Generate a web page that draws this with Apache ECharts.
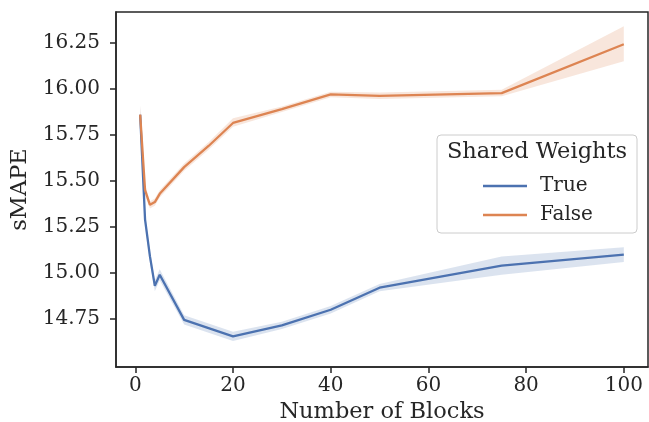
<!DOCTYPE html>
<html>
<head>
<meta charset="utf-8">
<script src="https://cdn.jsdelivr.net/npm/echarts@6/dist/echarts.min.js"></script>
<style>
html,body{margin:0;padding:0;background:#fff;}
#chart{width:649px;height:422px;}
</style>
</head>
<body>
<div id="chart"></div>
<script>
// ---- data ----
var blocks = [1, 2, 3, 4, 5, 10, 15, 20, 30, 40, 50, 75, 100];
var trueMean = [15.86, 15.29, 15.09, 14.93, 14.99, 14.745, 14.70, 14.655, 14.715, 14.80, 14.92, 15.04, 15.10];
var trueLow  = [15.82, 15.26, 15.06, 14.90, 14.96, 14.72, 14.675, 14.63, 14.695, 14.78, 14.90, 14.99, 15.06];
var trueHigh = [15.91, 15.32, 15.12, 14.96, 15.02, 14.77, 14.725, 14.68, 14.735, 14.82, 14.94, 15.09, 15.14];
var falseMean = [15.86, 15.45, 15.37, 15.385, 15.43, 15.575, 15.69, 15.815, 15.89, 15.97, 15.962, 15.977, 16.243];
var falseLow  = [15.82, 15.42, 15.35, 15.365, 15.41, 15.555, 15.67, 15.795, 15.875, 15.955, 15.945, 15.96, 16.15];
var falseHigh = [15.91, 15.48, 15.39, 15.405, 15.45, 15.595, 15.71, 15.84, 15.905, 15.985, 15.98, 15.995, 16.34];
var xTicks = [0, 20, 40, 60, 80, 100];
var yTicks = [14.75, 15.00, 15.25, 15.50, 15.75, 16.00, 16.25];
var seriesNames = ['True', 'False'];
var legendTitle = 'Shared Weights';
var xName = 'Number of Blocks';
var yName = 'sMAPE';

var BLUE = '#4c72b0', ORANGE = '#dd8452';
var FONT = '"DejaVu Serif", serif';
var TXT = '#262626';

function pairs(xs, ys) { return xs.map(function (x, i) { return [x, ys[i]]; }); }

function bandSeries(low, high, color) {
  return {
    type: 'custom',
    silent: true,
    z: 1,
    data: [[blocks[0], low[0]]],
    renderItem: function (params, api) {
      var pts = [];
      for (var i = 0; i < blocks.length; i++) pts.push(api.coord([blocks[i], high[i]]));
      for (var j = blocks.length - 1; j >= 0; j--) pts.push(api.coord([blocks[j], low[j]]));
      return { type: 'polygon', shape: { points: pts }, style: { fill: color, opacity: 0.2 } };
    }
  };
}

var chart = echarts.init(document.getElementById('chart'), null, { renderer: 'canvas' });
chart.setOption({
  animation: false,
  backgroundColor: '#fff',
  grid: { left: 116, right: 1, top: 12, bottom: 55, show: true, borderColor: TXT, borderWidth: 1.5,
          backgroundColor: 'transparent', containLabel: false, outerBoundsMode: 'none' },
  xAxis: {
    type: 'value', min: -3.95, max: 104.95,
    name: xName, nameLocation: 'middle', nameGap: 29,
    nameTextStyle: { fontFamily: FONT, fontSize: 22.5, color: TXT },
    axisLine: { show: true, onZero: false, lineStyle: { color: TXT, width: 1.5 } },
    axisTick: { show: true, length: 6, lineStyle: { color: TXT, width: 1.5 }, customValues: xTicks },
    axisLabel: { customValues: xTicks, margin: 9, fontFamily: FONT, fontSize: 20, color: TXT },
    splitLine: { show: false }
  },
  yAxis: {
    type: 'value', min: 14.489, max: 16.418,
    name: yName, nameLocation: 'middle', nameGap: 70, nameRotate: 90,
    nameTextStyle: { fontFamily: FONT, fontSize: 22.5, color: TXT },
    axisLine: { show: true, onZero: false, lineStyle: { color: TXT, width: 1.5 } },
    axisTick: { show: true, length: 6, lineStyle: { color: TXT, width: 1.5 }, customValues: yTicks },
    axisLabel: { customValues: yTicks, margin: 16, fontFamily: FONT, fontSize: 20, color: TXT,
      formatter: function (v) { return v.toFixed(2); } },
    splitLine: { show: false }
  },
  legend: {
    data: seriesNames,
    orient: 'vertical',
    left: 478, top: 171,
    z: 100,
    itemWidth: 44, itemHeight: 2.5, itemGap: 9,
    icon: 'rect',
    selectedMode: false,
    textStyle: { fontFamily: FONT, fontSize: 20, color: TXT, padding: [0, 0, 0, 8] }
  },
  graphic: [
    { type: 'rect', x: 437, y: 135, z: 90,
      shape: { width: 200, height: 98, r: 4 },
      style: { fill: 'rgba(255,255,255,0.85)', stroke: '#cccccc', lineWidth: 1 } },
    { type: 'text', x: 537, y: 141, z: 91,
      style: { text: legendTitle, font: '22.5px ' + FONT, fill: TXT, align: 'center', verticalAlign: 'top' } }
  ],
  series: [
    bandSeries(trueLow, trueHigh, BLUE),
    bandSeries(falseLow, falseHigh, ORANGE),
    { name: seriesNames[0], type: 'line', data: pairs(blocks, trueMean), showSymbol: false, symbol: 'none',
      lineStyle: { color: BLUE, width: 2.3 }, itemStyle: { color: BLUE }, z: 3 },
    { name: seriesNames[1], type: 'line', data: pairs(blocks, falseMean), showSymbol: false, symbol: 'none',
      lineStyle: { color: ORANGE, width: 2.3 }, itemStyle: { color: ORANGE }, z: 3 }
  ]
});
</script>
</body>
</html>
